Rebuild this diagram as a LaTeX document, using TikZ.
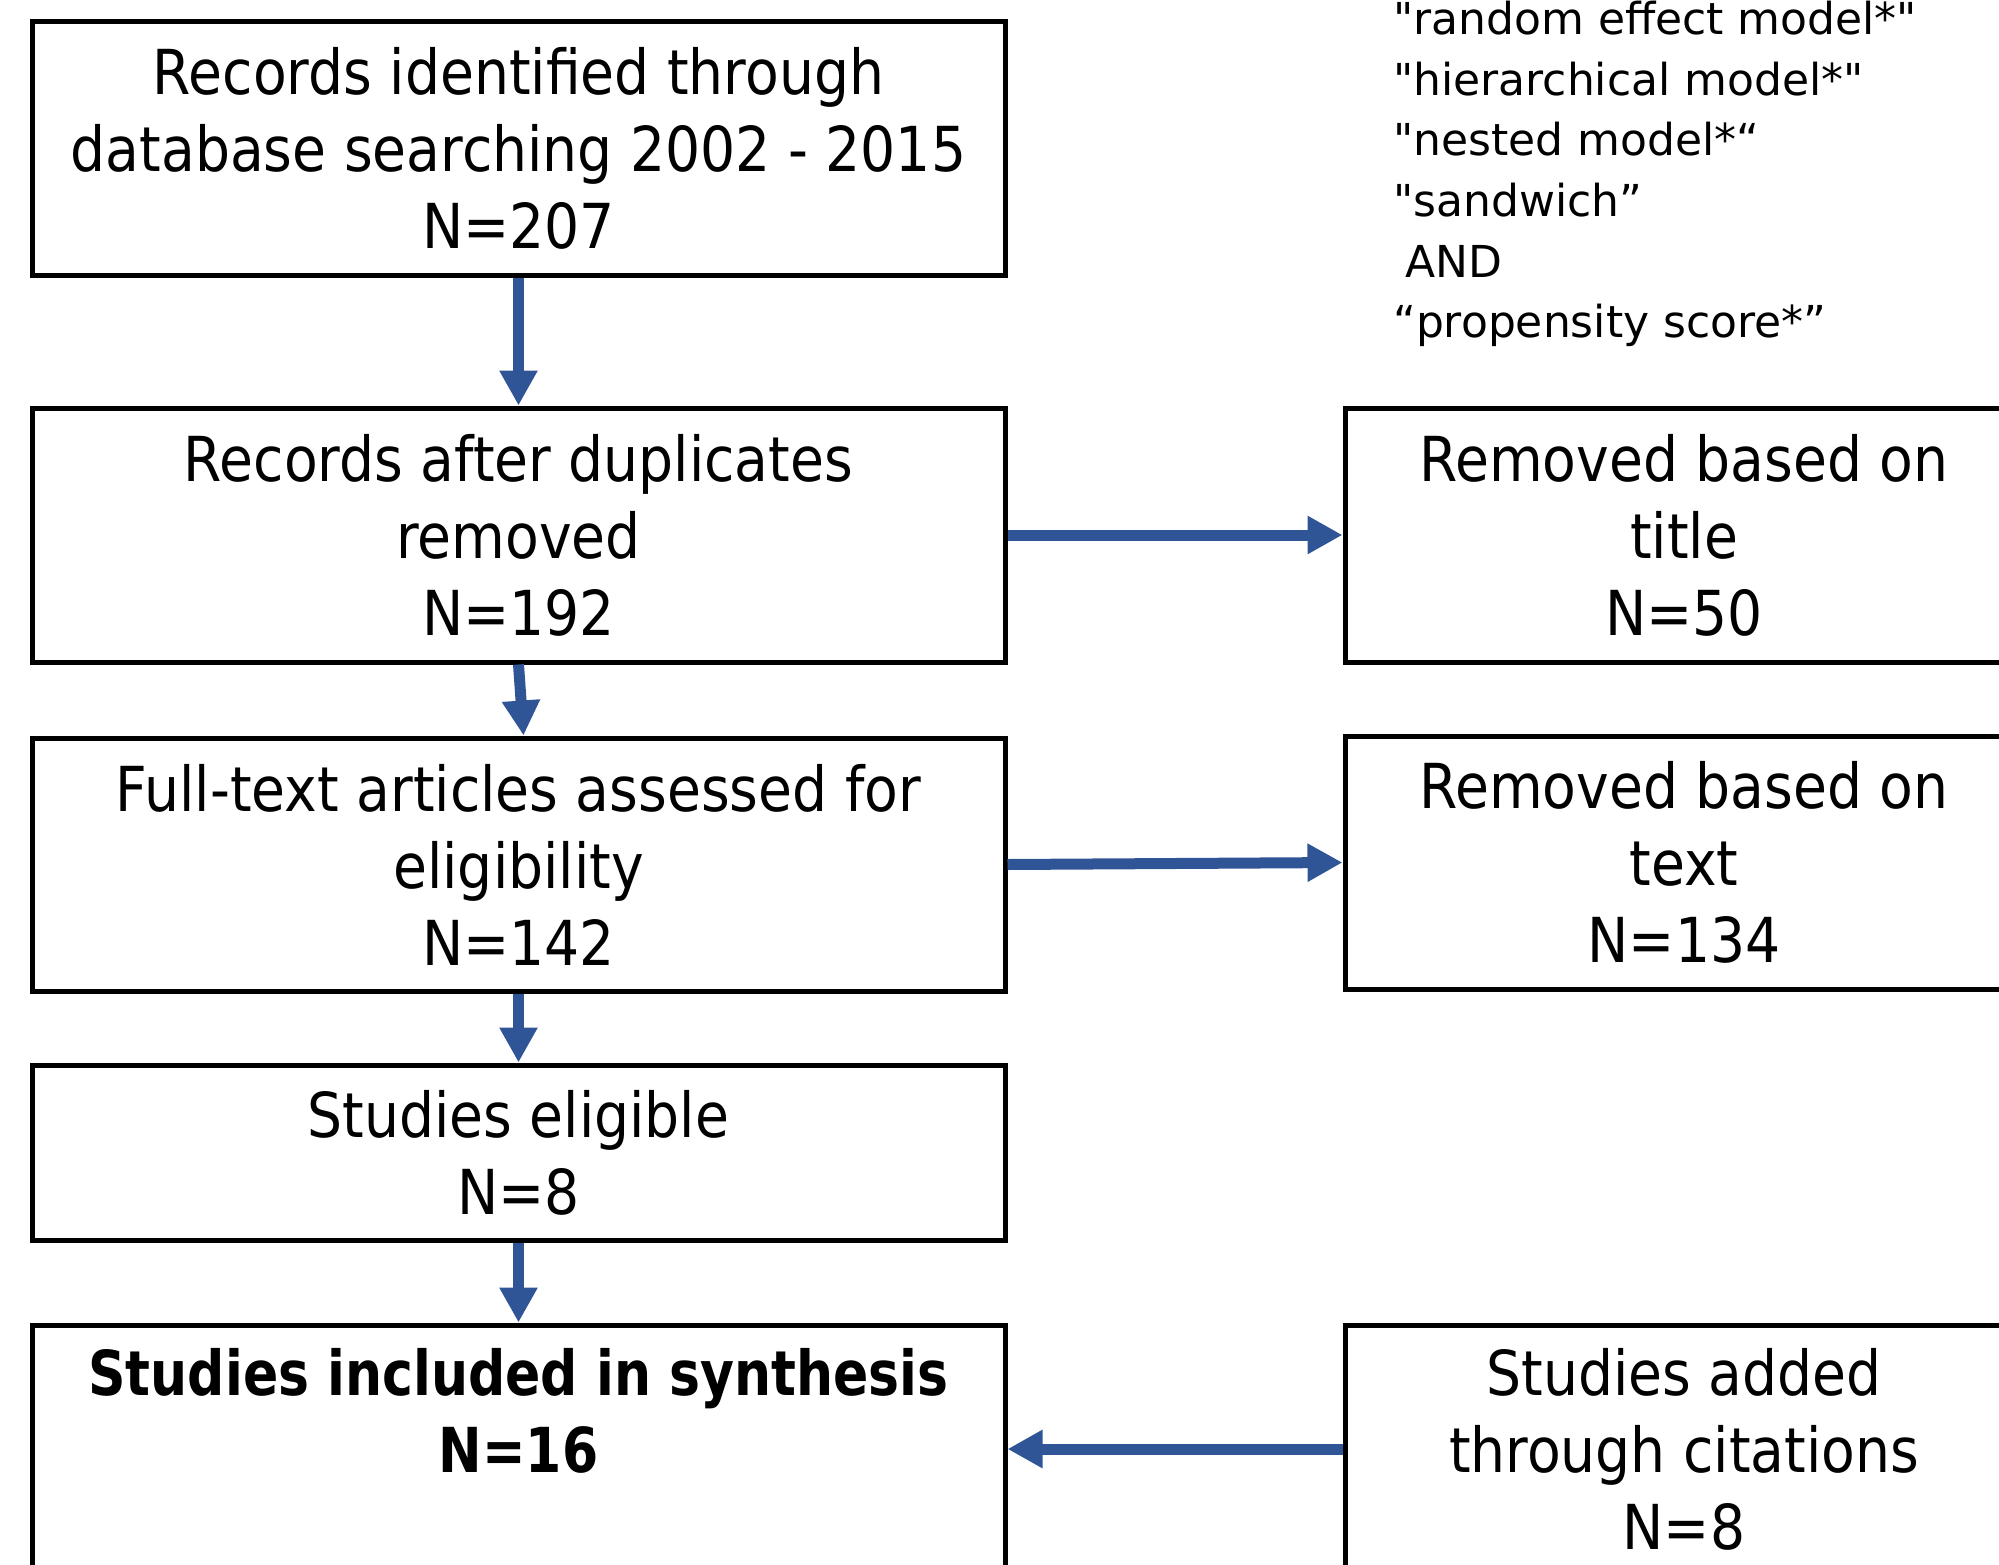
\documentclass[tikz,border=0pt]{standalone}
\usepackage{fontspec}
\setmainfont{DejaVu Sans}[Ligatures=TeXOff]
\newfontfamily\boxfont{DejaVu Sans}[FakeStretch=0.89]
\newfontfamily\boxbf{DejaVu Sans}[FakeStretch=0.84]
\usetikzlibrary{arrows.meta}
\definecolor{arrowblue}{HTML}{2F5597}
\begin{document}
\begin{tikzpicture}[x=1pt,y=-1pt,
  box/.style={draw=black, line width=5pt, minimum width=973pt, inner sep=0pt,
    align=center, font=\boxfont\fontsize{62}{77}\selectfont},
  rbox/.style={box, minimum width=678pt},
  arr/.style={draw=arrowblue, line width=11pt, -{Triangle[width=36pt,length=35pt]}},
  terms/.style={align=left, inner sep=0pt, font=\fontsize{44}{60.6}\selectfont}
]
\useasboundingbox (0,0) rectangle (1999,1565);
\clip (0,0) rectangle (1999,1565);

\node[box, minimum height=253pt] (b1) at (518.5,148.5)
  {Records identified through\\database searching 2002 - 2015\\N=207};
\node[box, minimum height=254pt] (b2) at (518.5,535)
  {Records after duplicates\\removed\\N=192};
\node[box, minimum height=253pt] (b3) at (518.5,864.5)
  {Full-text articles assessed for\\eligibility\\N=142};
\node[box, minimum height=175pt] (b4) at (518.5,1152.5)
  {Studies eligible\\N=8};
\node[box, minimum height=248pt] (b5) at (518.5,1449)
  {{\boxbf\bfseries Studies included in synthesis}\\{\boxbf\bfseries N=16}\\~};

\node[rbox, minimum height=254pt] (r1) at (1684,535)
  {Removed based on\\title\\N=50};
\node[rbox, minimum height=253pt] (r2) at (1684,862.5)
  {Removed based on\\text\\N=134};
\node[rbox, minimum height=248pt] (r3) at (1684,1449)
  {Studies added\\through citations\\N=8};

\node[terms, anchor=west] (t) at (1393,174)
  {"random effect model*"\\
   "hierarchical model*"\\
   "nested model*“\\
   "sandwich”\\
   \hspace*{12pt}AND\\
   “propensity score*”};

\draw[arr] (b1.south) -- (b2.north);
\draw[arr] (b2.south) -- ([xshift=5pt]b3.north);
\draw[arr] (b3.south) -- (b4.north);
\draw[arr] (b4.south) -- (b5.north);
\draw[arr] (b2.east) -- (r1.west);
\draw[arr] (b3.east) -- (r2.west);
\draw[arr] (r3.west) -- (b5.east);
\end{tikzpicture}
\end{document}
